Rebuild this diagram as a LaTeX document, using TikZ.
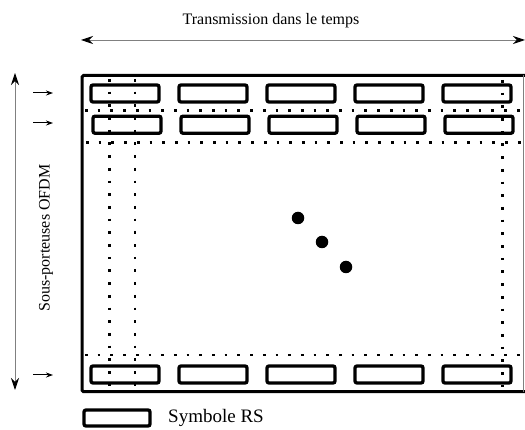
\documentclass[tikz,border=0pt]{standalone}
\usepackage{fontspec}
\setmainfont{Liberation Serif}
\usetikzlibrary{arrows.meta}
\begin{document}
\begin{tikzpicture}[x=1pt,y=-1pt,
  rsbox/.style={draw,line width=3.3pt,rounded corners=2pt,minimum width=68pt,minimum height=17pt,inner sep=0pt},
  dotline/.style={line width=2.7pt,dash pattern=on 2.7pt off 10pt},
  frameline/.style={line width=3pt,rounded corners=1.5pt},
  axisarrow/.style={draw=gray,line width=0.9pt,{Stealth[black,length=12pt,width=8pt]}-{Stealth[black,length=12pt,width=8pt]}},
  smallarrow/.style={line width=1pt,-{Stealth[length=7pt,width=5pt]}},
  dotnode/.style={circle,fill,inner sep=0pt,minimum size=12.5pt},
  lbl/.style={font=\fontsize{16}{18}\selectfont,inner sep=0pt}]
\useasboundingbox (0,0) rectangle (525,430);

% axes
\coordinate (ta1) at (81,40);
\coordinate (ta2) at (525,40);
\draw[axisarrow] (ta1) -- (ta2);
\node[lbl] (tlabel) at (271,21) {Transmission dans le temps};

\coordinate (va1) at (15,73);
\coordinate (va2) at (15,390);
\draw[axisarrow] (va1) -- (va2);
\node[lbl,rotate=90] (vlabel) at (46,238) {Sous-porteuses OFDM};

% frame
\coordinate (f1) at (525,75.5);
\coordinate (f2) at (82,75.5);
\coordinate (f3) at (82,391.7);
\coordinate (f4) at (525,391.7);
\draw[frameline] (f1) -- (f2) -- (f3) -- (f4);
\coordinate (fr1) at (523,75.5);
\coordinate (fr2) at (523,391.7);
\draw[gray,line width=0.8pt] (fr1) -- (fr2);

% RS boxes
\foreach \i in {0,...,4}{
  \node[rsbox] (ra\i) at (125+88*\i,93.5) {};
  \node[rsbox] (rb\i) at (127+88*\i,124.7) {};
  \node[rsbox] (rc\i) at (125+88*\i,374.5) {};
}

% small arrows
\coordinate (sa1) at (33,93);   \coordinate (sa2) at (53,93);
\coordinate (sb1) at (33,123);  \coordinate (sb2) at (53,123);
\coordinate (sc1) at (33,375);  \coordinate (sc2) at (53,375);
\draw[smallarrow] (sa1) -- (sa2);
\draw[smallarrow] (sb1) -- (sb2);
\draw[smallarrow] (sc1) -- (sc2);

% dotted lines
\coordinate (h1a) at (85,110.7);  \coordinate (h1b) at (525,110.7);
\coordinate (h2a) at (86,142.7);  \coordinate (h2b) at (525,142.7);
\coordinate (h3a) at (85,355);    \coordinate (h3b) at (525,355);
\coordinate (v1a) at (109.3,79);  \coordinate (v1b) at (109.3,392);
\coordinate (v2a) at (135,79);    \coordinate (v2b) at (135,392);
\coordinate (v3a) at (502.7,80);  \coordinate (v3b) at (502.7,392);
\draw[dotline] (h1a) -- (h1b);
\draw[dotline] (h2a) -- (h2b);
\draw[dotline] (h3a) -- (h3b);
\draw[dotline] (v1a) -- (v1b);
\draw[dotline] (v2a) -- (v2b);
\draw[dotline] (v3a) -- (v3b);

% dots
\node[dotnode] (d1) at (298,218) {};
\node[dotnode] (d2) at (322,242) {};
\node[dotnode] (d3) at (346,267) {};

% legend
\node[rsbox,minimum width=66pt,minimum height=16pt] (leg) at (117,418) {};
\node[anchor=west,font=\fontsize{19}{21}\selectfont,inner sep=0pt] (legtext) at (168,418) {Symbole RS};
\end{tikzpicture}
\end{document}
